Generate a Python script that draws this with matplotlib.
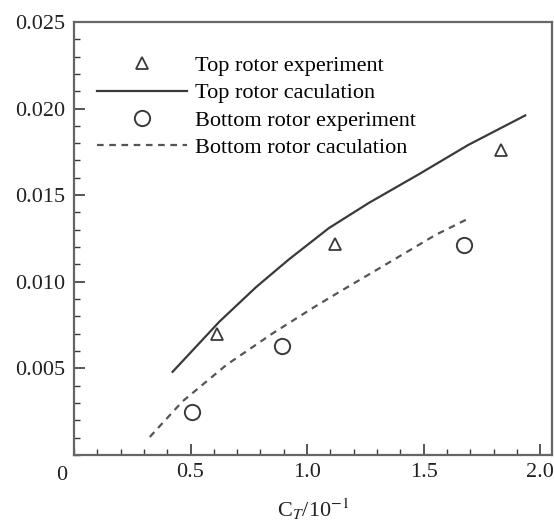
import numpy as np
import matplotlib
matplotlib.use("Agg")
import matplotlib.pyplot as plt
from matplotlib.ticker import MultipleLocator, FixedLocator, FormatStrFormatter

# experiment points
top_exp_x = [0.615, 1.12, 1.83]
top_exp_y = [0.0070, 0.0122, 0.0176]
bot_exp_x = [0.508, 0.893, 1.675]
bot_exp_y = [0.0025, 0.0063, 0.0121]

# calculation curves
top_calc_x = [0.423, 0.624, 0.782, 0.923, 1.094, 1.265, 1.479, 1.692, 1.936]
top_calc_y = [0.0048, 0.0077, 0.0097, 0.0113, 0.0131, 0.01455, 0.0162, 0.0179, 0.0196]
bot_calc_x = [0.325, 0.466, 0.654, 0.85, 1.038, 1.137, 1.338, 1.551, 1.70]
bot_calc_y = [0.00104, 0.0031, 0.0052, 0.0070, 0.0086, 0.0094, 0.0110, 0.0127, 0.0137]

labels = ["Top rotor experiment", "Top rotor caculation",
          "Bottom rotor experiment", "Bottom rotor caculation"]

plt.rcParams["font.family"] = ["Liberation Serif", "DejaVu Serif"]
plt.rcParams["mathtext.fontset"] = "stix"

fig = plt.figure(figsize=(5.54, 5.21), dpi=100)
ax = fig.add_axes([0.1336, 0.1267, 0.8624, 0.8313])

ink = "#3a3a3a"
ax.plot(top_exp_x, top_exp_y, linestyle="none", marker="^", markersize=8,
        markerfacecolor="none", markeredgecolor=ink, markeredgewidth=1.3, label=labels[0])
ax.plot(top_calc_x, top_calc_y, color=ink, linewidth=1.6, label=labels[1])
ax.plot(bot_exp_x, bot_exp_y, linestyle="none", marker="o", markersize=11,
        markerfacecolor="none", markeredgecolor=ink, markeredgewidth=1.4, label=labels[2])
ax.plot(bot_calc_x, bot_calc_y, color="#555555", linewidth=1.6, linestyle=(0, (3, 2.5)),
        label=labels[3])

ax.set_xlim(0, 2.05)
ax.set_ylim(0, 0.025)
ax.xaxis.set_major_locator(FixedLocator([0.5, 1.0, 1.5, 2.0]))
ax.xaxis.set_major_formatter(FormatStrFormatter("%.1f"))
ax.xaxis.set_minor_locator(MultipleLocator(0.1))
ax.yaxis.set_major_locator(FixedLocator([0.005, 0.010, 0.015, 0.020, 0.025]))
ax.yaxis.set_major_formatter(FormatStrFormatter("%.3f"))
ax.yaxis.set_minor_locator(MultipleLocator(0.001))
ax.tick_params(which="both", direction="in", colors=ink, labelsize=16, labelcolor="#222222")
ax.tick_params(which="major", length=8, width=1.2, pad=6)
ax.tick_params(which="minor", length=4, width=1.0)

for s in ax.spines.values():
    s.set_color("#666666")
    s.set_linewidth(1.6)

ax.text(-0.015, -0.025, "0", transform=ax.transAxes, ha="right", va="top",
        fontsize=16, color="#222222")
ax.set_xlabel(r"C$_T$/10$^{-1}$", fontsize=16, color="#222222", labelpad=10)

ax.legend(loc="upper left", frameon=False, fontsize=16, handlelength=4.05,
          handletextpad=0.36, labelspacing=0.3, borderpad=0, borderaxespad=0,
          bbox_to_anchor=(0.048, 0.922))

fig.savefig("out.png", dpi=100)
